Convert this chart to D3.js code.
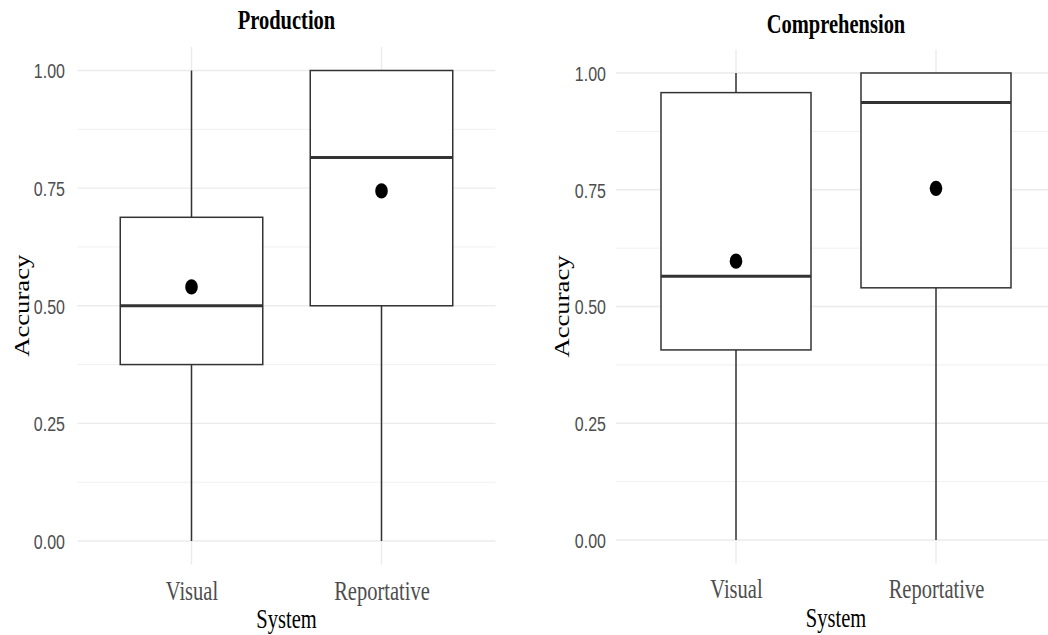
<!DOCTYPE html>
<html>
<head>
<meta charset="utf-8">
<script src="https://cdn.jsdelivr.net/npm/d3@7"></script>
<style>
  html, body { margin: 0; padding: 0; background: #fff; }
  svg { display: block; }
</style>
</head>
<body>
<svg id="chart" width="1048" height="635"></svg>
<script>
// ---- data ----
const panelTitles = ["Production", "Comprehension"];
const categories = ["Visual", "Reportative"];
const lowerWhisker = [[0.00, 0.00], [0.00, 0.00]];
const q1Values     = [[0.375, 0.50], [0.407, 0.540]];
const medianValues = [[0.50, 0.815], [0.565, 0.937]];
const q3Values     = [[0.688, 1.00], [0.958, 1.00]];
const upperWhisker = [[1.00, 1.00], [1.00, 1.00]];
const meanValues   = [[0.540, 0.744], [0.597, 0.753]];
const yTickValues  = [0, 0.25, 0.5, 0.75, 1];
const yMinorValues = [0.125, 0.375, 0.625, 0.875];
const yTickLabels  = ["0.00", "0.25", "0.50", "0.75", "1.00"];
const xTitle = "System";
const yTitle = "Accuracy";

// ---- layout ----
const layout = [
  { x0: 77.5, x1: 495.5, yZero: 541, yOne: 70.5, titleY: 29, xLabY: 35.5, sysY: 628, accX: 29, tickPad: 12.5 },
  { x0: 616,  x1: 1056,  yZero: 540, yOne: 73,   titleY: 33, xLabY: 34.6, sysY: 627, accX: 569, tickPad: 10 }
];
const SY = 1.3;              // vertical stretch of text as in the reference
const serif = "'Liberation Serif', 'Times New Roman', serif";
const sans  = "'Liberation Sans', Arial, sans-serif";
const ink = "#333333";

const svg = d3.select("#chart");

layout.forEach((L, p) => {
  const g = svg.append("g");
  const x = d3.scalePoint().domain(categories).range([L.x0, L.x1]).padding(0.6);
  const y = d3.scaleLinear().domain([0, 1]).range([L.yZero, L.yOne]);
  const yLo = y(-0.05), yHi = y(1.05);
  const bw = x.step() * 0.75;

  // minor grid
  g.selectAll(".minor").data(yMinorValues).join("line")
    .attr("x1", L.x0).attr("x2", L.x1)
    .attr("y1", d => y(d)).attr("y2", d => y(d))
    .attr("stroke", "#f0f0f0").attr("stroke-width", 1);
  // major grid
  g.selectAll(".major").data(yTickValues).join("line")
    .attr("x1", L.x0).attr("x2", L.x1)
    .attr("y1", d => y(d)).attr("y2", d => y(d))
    .attr("stroke", "#ebebeb").attr("stroke-width", 1.4);
  g.selectAll(".vmajor").data(categories).join("line")
    .attr("x1", d => x(d)).attr("x2", d => x(d))
    .attr("y1", yHi).attr("y2", yLo)
    .attr("stroke", "#ebebeb").attr("stroke-width", 1.4);

  // y axis
  const yAxis = d3.axisLeft(y).tickValues(yTickValues)
    .tickFormat((d, i) => yTickLabels[i]).tickSize(0).tickPadding(L.tickPad);
  const ya = g.append("g").attr("transform", `translate(${L.x0},0)`).call(yAxis);
  ya.select(".domain").remove();
  ya.selectAll("text")
    .attr("font-family", sans).attr("font-size", 16).attr("fill", "#4d4d4d")
    .attr("dy", "0.35em")
    .attr("transform", `scale(1,${SY})`);

  // x axis
  const xAxis = d3.axisBottom(x).tickSize(0);
  const xa = g.append("g").attr("transform", `translate(0,${yLo})`).call(xAxis);
  xa.select(".domain").remove();
  xa.selectAll("text")
    .attr("font-family", serif).attr("font-size", 20.5).attr("fill", "#4d4d4d")
    .attr("y", 0).attr("dy", 0)
    .attr("transform", `translate(0,${L.xLabY}) scale(1,${SY})`);

  // boxes
  categories.forEach((c, i) => {
    const cx = x(c);
    g.append("line")
      .attr("x1", cx).attr("x2", cx)
      .attr("y1", y(lowerWhisker[p][i])).attr("y2", y(upperWhisker[p][i]))
      .attr("stroke", ink).attr("stroke-width", 1.5);
    g.append("rect")
      .attr("x", cx - bw / 2).attr("width", bw)
      .attr("y", y(q3Values[p][i])).attr("height", y(q1Values[p][i]) - y(q3Values[p][i]))
      .attr("fill", "#fff").attr("stroke", ink).attr("stroke-width", 1.5);
    g.append("line")
      .attr("x1", cx - bw / 2).attr("x2", cx + bw / 2)
      .attr("y1", y(medianValues[p][i])).attr("y2", y(medianValues[p][i]))
      .attr("stroke", ink).attr("stroke-width", 3);
    g.append("ellipse")
      .attr("cx", cx).attr("cy", y(meanValues[p][i]))
      .attr("rx", 6.3).attr("ry", 7.6).attr("fill", "#000");
  });

  // title
  const midX = (L.x0 + L.x1) / 2;
  g.append("text").text(panelTitles[p])
    .attr("font-family", serif).attr("font-weight", "bold").attr("font-size", 20.5)
    .attr("text-anchor", "middle").attr("fill", "#000")
    .attr("transform", `translate(${midX},${L.titleY}) scale(1,${SY})`);

  // axis titles
  g.append("text").text(xTitle)
    .attr("font-family", serif).attr("font-size", 20.5)
    .attr("text-anchor", "middle").attr("fill", "#000")
    .attr("transform", `translate(${midX},${L.sysY}) scale(1,${SY})`);
  g.append("text").text(yTitle)
    .attr("font-family", serif).attr("font-size", 20.5)
    .attr("text-anchor", "middle").attr("fill", "#000")
    .attr("transform", `translate(${L.accX},${(L.yZero + L.yOne) / 2}) scale(1,${SY}) rotate(-90)`);
});
</script>
</body>
</html>
